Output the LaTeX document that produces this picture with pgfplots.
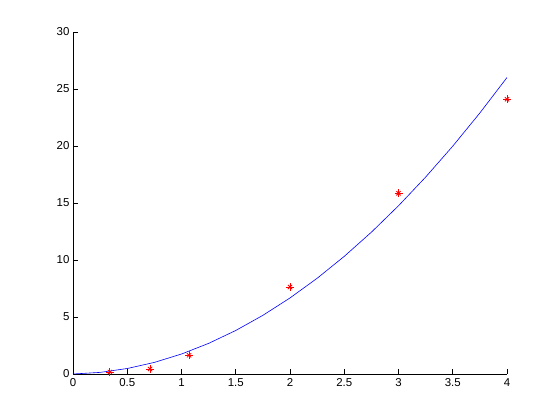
\documentclass[border=0pt]{standalone}
\usepackage{pgfplots}
\pgfplotsset{compat=1.18}
\usepackage{fontspec}
\setmainfont{Liberation Sans}
\begin{document}
\begin{tikzpicture}[x=1bp,y=1bp]
\useasboundingbox (-73bp,-46bp) rectangle (487bp,374bp);
\begin{axis}[
  at={(0,0)}, anchor=origin,
  scale only axis, width=434bp, height=342bp,
  xmin=0, xmax=4, ymin=0, ymax=30,
  axis lines*=left,
  axis line style={black, line width=0.6bp, -},
  xtick={0,0.5,...,4}, ytick={0,5,...,30},
  tick align=inside, major tick length=5bp,
  tick style={black, line width=0.6bp},
  /pgf/number format/assume math mode=true,
  tick label style={font=\fontsize{11.5}{13}\selectfont},
  xticklabel style={yshift=-1bp},
  clip=false,
]
\addplot[blue, line width=0.6bp, no marks] coordinates {
(0,0) (0.25,0.141) (0.5,0.481) (0.75,1.018) (1,1.753) (1.25,2.686) (1.5,3.817)
(1.75,5.146) (2,6.672) (2.25,8.396) (2.5,10.319) (2.75,12.439) (3,14.757)
(3.25,17.273) (3.5,19.987) (3.75,22.899) (4,26.008)};
\addplot[red, only marks, mark=+, mark size=4bp, line width=0.8bp] coordinates {
(0.34,0.17) (0.71,0.44) (1.07,1.64) (2,7.63) (3,15.85) (4,24.1)};
\addplot[red, only marks, mark=x, mark size=3bp, line width=0.8bp] coordinates {
(0.34,0.17) (0.71,0.44) (1.07,1.64) (2,7.63) (3,15.85) (4,24.1)};
\end{axis}
\end{tikzpicture}
\end{document}
